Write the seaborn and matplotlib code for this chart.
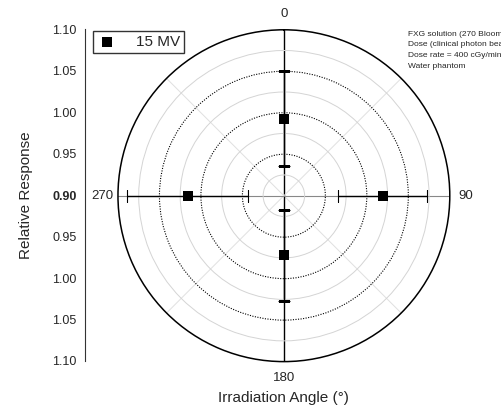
import numpy as np
import matplotlib
matplotlib.use("Agg")
import matplotlib.pyplot as plt
from matplotlib.ticker import FixedLocator, MultipleLocator, FuncFormatter
import seaborn as sns

# data
angles = [0, 90, 180, 270]              # irradiation angle (deg)
response = [0.993, 1.019, 0.972, 1.016]  # relative response
error = [0.057, 0.054, 0.055, 0.073]     # error bar half width
series_label = "15 MV"
note_lines = ["FXG solution (270 Bloom",
              "Dose (clinical photon bea",
              "Dose rate = 400 cGy/min",
              "Water phantom"]

sns.set_style("white")
plt.rcParams['font.family'] = ['Liberation Sans', 'DejaVu Sans']

fig = plt.figure(figsize=(5.02, 4.08), dpi=100)

# polar panel
ax = fig.add_axes([0.235, 0.1135, 0.661, 0.8137], projection='polar')
ax.set_theta_zero_location('N')
ax.set_theta_direction(-1)
ax.set_ylim(0.90, 1.10)

theta = np.deg2rad(angles)
sns.scatterplot(x=theta, y=response, ax=ax, marker='s', color='black',
                s=55, edgecolor='black', linewidth=0, label=series_label, zorder=5)
ax.errorbar(theta, response, yerr=error, fmt='none', ecolor='black',
            elinewidth=1.0, capsize=4, capthick=0.8, zorder=4)

# angular grid
ax.set_thetagrids(range(0, 360, 45),
                  labels=['0', '', '90', '', '180', '', '270', ''], fontsize=9.5)
ax.tick_params(axis='x', pad=1)
ax.xaxis.grid(True)
for i, gl in enumerate(ax.xaxis.get_gridlines()):
    if i in (0, 4):
        gl.set_color('black'); gl.set_linewidth(1.0); gl.set_linestyle('-')
    elif i in (2, 6):
        gl.set_color('#888888'); gl.set_linewidth(0.8); gl.set_linestyle('-')
    else:
        gl.set_color('#e0e0e0'); gl.set_linewidth(0.7); gl.set_linestyle('-')

# radial grid: dotted majors, light minors
ax.set_yticks([0.95, 1.00, 1.05])
ax.set_yticklabels([])
ax.yaxis.set_minor_locator(FixedLocator([0.925, 0.975, 1.025, 1.075]))
ax.yaxis.grid(True, which='major', color='black', linestyle=(0, (1, 1.3)), linewidth=0.8)
ax.yaxis.grid(True, which='minor', color='#d4d4d4', linestyle='-', linewidth=0.7)
ax.spines['polar'].set_color('black')
ax.spines['polar'].set_linewidth(1.1)
ax.set_xlabel('Irradiation Angle (°)', fontsize=11, labelpad=5)

leg = ax.legend(loc='upper left', bbox_to_anchor=(0.185, 0.924),
                bbox_transform=fig.transFigure, fontsize=11, frameon=True,
                fancybox=False, edgecolor='black', handletextpad=1.2,
                borderpad=0.25, borderaxespad=0, markerscale=1.0, handlelength=1.4)
leg.get_frame().set_linewidth(1.0)

# mirrored radial scale on the left
ax2 = fig.add_axes([0.169, 0.1152, 0.001, 0.8137])
ax2.set_ylim(-0.2, 0.2)
for s in ['top', 'right', 'bottom']:
    ax2.spines[s].set_visible(False)
ax2.spines['left'].set_color('#333333')
ax2.set_xticks([])
ax2.yaxis.set_major_locator(MultipleLocator(0.05))
ax2.yaxis.set_minor_locator(MultipleLocator(0.025))
ax2.yaxis.set_major_formatter(FuncFormatter(lambda v, p: f"{0.90 + abs(v):.2f}"))
ax2.tick_params(axis='y', which='major', length=4, width=0.8, labelsize=9, direction='out', pad=2)
ax2.tick_params(axis='y', which='minor', length=2.5, width=0.8, direction='out')
ax2.set_ylabel('Relative Response', fontsize=11, labelpad=14)

fig.canvas.draw()
for t in ax2.get_yticklabels():
    if t.get_text() == '0.90':
        t.set_fontweight('bold')

y0 = 1 - 34 / 408
for i, line in enumerate(note_lines):
    fig.text(408 / 502, y0 - i * 10.7 / 408, line, fontsize=6, va='center', ha='left')

fig.savefig('out.png', dpi=100)
